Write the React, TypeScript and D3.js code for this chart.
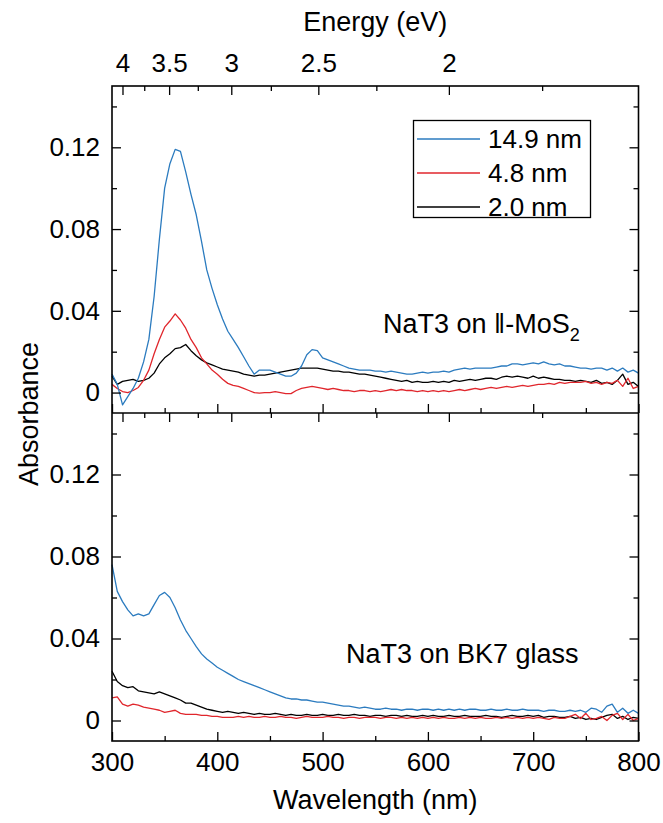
import { useEffect, useRef } from "react";
import * as d3 from "d3";

// sampling grid, nm
const wavelength = d3.range(300, 801, 5);

// absorbance x 1000 (mOD)
// top panel: NaT3 on MoS2
const mos2_149 = [
  9, 4, -6, -2, 2, 7, 15, 26, 47, 75,
  100, 112, 119, 118, 108, 97, 87, 74, 60, 51,
  43, 36, 30, 26, 22, 17.5, 13, 9, 11, 11,
  11, 10, 9, 8, 8, 9.5, 13, 18.5, 21, 20.5,
  17, 16, 15, 14, 13, 12, 11.5, 11, 11, 11,
  10.5, 10.5, 10, 10.5, 10, 9.5, 9, 9, 9.5, 10,
  9.5, 10, 10, 10.5, 10, 11, 11.5, 12, 11.5, 12,
  12, 12, 12, 12.5, 13, 13, 14, 14, 13.5, 14,
  14.5, 14, 15, 14, 13.5, 14, 13, 13, 12.5, 12,
  12, 11.5, 12, 12, 11, 12, 10.5, 12, 10, 11,
  9.5,
];
const mos2_48 = [
  4, 2, 0.5, 0, 1, 2.5, 6, 11, 19, 26,
  32, 35, 38.5, 35.5, 31.5, 26, 22, 17, 14, 11,
  9, 6.5, 4.5, 3.5, 3, 2, 1, 0, -0.3, 0,
  0, 0.5, 0, -0.5, -0.5, 1, 2, 2.5, 3, 2.5,
  2, 1.5, 2, 1.5, 1, 1, 0.5, 1, 1, 0.5,
  1, 0.5, 1, 1.5, 1, 1.5, 1, 1, 0.5, 1,
  0.5, 1, 0.5, 1, 0.5, 1, 1.5, 1, 1.5, 2,
  1.5, 2, 2.5, 2, 2.5, 3, 2.5, 3, 3.5, 3,
  3.5, 4, 4, 4.5, 4, 5, 4.5, 5, 5, 5,
  5.5, 4.5, 5, 4, 5, 4.5, 6, 3, 7, 2,
  3,
];
const mos2_20 = [
  8, 4, 5.5, 6, 6.5, 5.5, 6, 7, 9.5, 14,
  17, 19, 21.5, 22, 23.5, 20.5, 18, 16, 14.5, 13.5,
  12.5, 11.5, 11, 10.5, 10, 9, 8.5, 8, 8.5, 8.5,
  9, 9.5, 10, 10.5, 11, 11.5, 12, 12, 12, 12,
  11.5, 11, 10.5, 10.5, 10, 10, 9.5, 9, 9, 8.5,
  8, 7.5, 7, 6.5, 6, 5.5, 6, 5, 5.5, 5,
  5, 5.5, 5, 5.5, 5, 6, 5.5, 6, 6.5, 6,
  6.5, 7, 7, 6.5, 7.5, 8, 7.5, 8, 7.5, 7,
  8, 7, 7.5, 7, 6.5, 6.5, 6, 6, 5.5, 6,
  5.5, 5, 6, 4.5, 5, 4, 6, 9, 4, 5,
  3,
];
// bottom panel: NaT3 on BK7 glass
const bk7_149 = [
  76, 63, 58, 54, 51, 52, 51, 52, 56.5, 61,
  62.5, 60, 55, 49, 44, 40, 36, 32.5, 30, 28,
  26, 24.5, 23, 21.5, 20, 19, 18, 17, 16, 15,
  14, 13, 12, 11, 10.5, 10.5, 10, 10, 9.5, 9,
  9, 8.5, 8, 7.5, 7, 7, 6.5, 6, 6.5, 6,
  5.5, 5.5, 6, 5.5, 5.5, 5, 5.5, 5.5, 5, 5.5,
  5.5, 5, 5.5, 5, 5.5, 5, 5.5, 5, 5.5, 5.5,
  5, 5, 5.5, 5, 5, 5.5, 5, 5, 5.5, 5,
  5, 5, 4.5, 5, 5, 4.5, 4.5, 5, 4.5, 5,
  4, 6, 5.5, 4, 7, 8, 4, 6, 3.5, 5,
  3.5,
];
const bk7_48 = [
  11, 11.5, 8, 7, 8, 7.5, 6.5, 6, 5.5, 5,
  4, 4.5, 5, 3.5, 3, 3, 3, 2.5, 2.5, 2,
  2, 1.5, 1.5, 1.5, 2, 1.5, 2, 1.5, 1.5, 2,
  1.5, 1.5, 2, 1.5, 1.5, 1, 1.5, 2, 1.5, 1.5,
  1.5, 2, 1.5, 1.5, 1, 1.5, 1.5, 1, 1.5, 1.5,
  1.5, 1, 1.5, 1.5, 1, 1.5, 1, 1.5, 1, 1.5,
  1, 1.5, 1, 1.5, 1, 1, 1.5, 1, 1.5, 1,
  1.5, 1, 1, 1.5, 1, 1.5, 1, 1.5, 1, 1.5,
  1, 1.5, 1, 0.5, 1.5, 1, 1, 2, 3, 1,
  3.5, 0.5, 1, 2, 0, 2.5, 3.5, 0.5, 3, 0,
  1,
];
const bk7_20 = [
  24, 19, 17, 16, 16.5, 14.5, 14, 13.5, 13, 14,
  13, 12, 11, 10, 8.5, 8.5, 7.5, 6.5, 5.5, 5,
  4.5, 4, 4.5, 4, 3.5, 4, 3.5, 3, 3.5, 3,
  3, 3.5, 3, 2.5, 3, 2.5, 2.5, 3, 2.5, 2.5,
  3, 2.5, 2.5, 3, 2.5, 2.5, 3, 2.5, 2.5, 2,
  2.5, 2.5, 2, 2.5, 2.5, 2, 2.5, 2, 2, 2.5,
  2, 2.5, 2, 2, 2.5, 2, 2, 2.5, 2, 2,
  2, 2.5, 2, 2, 1.5, 2, 2.5, 2, 2, 2.5,
  2, 2.5, 1.5, 2, 2, 1.5, 1.5, 2, 1, 1.5,
  0.5, 1, 0.5, 1.5, 2.5, 3, 1, 2, 0.5, 1.5,
  1,
];

const seriesNames = ["14.9 nm", "4.8 nm", "2.0 nm"];
const seriesColors = ["#2b7bbf", "#e0262c", "#000000"];

const wlMajor = [300, 400, 500, 600, 700, 800];
const wlMinor = [350, 450, 550, 650, 750];
const energyMajor = [4, 3.5, 3, 2.5, 2];
const energyMinor = [3.75, 3.25, 2.75, 2.25, 1.75];
const absMajor = [0, 0.04, 0.08, 0.12];
const absMinor = [0.02, 0.06, 0.1, 0.14];

const HC = 1239.84; // eV*nm
const FONT = "'Liberation Sans', Arial, Helvetica, sans-serif";

const W = 663;
const H = 823;
const left = 112;
const right = 638.5;
const panels = [
  { top: 86, bottom: 413, series: [mos2_149, mos2_48, mos2_20] },
  { top: 413, bottom: 741, series: [bk7_149, bk7_48, bk7_20] },
];

const App = () => {
  const gRef = useRef<SVGGElement>(null);

  useEffect(() => {
    const root = d3.select(gRef.current);
    root.selectAll("*").remove();

    const x = d3.scaleLinear().domain([300, 800]).range([left, right]);

    const styleAxis = (g) => {
      g.select(".domain").remove();
      g.attr("font-family", FONT).attr("font-size", 26);
      g.selectAll("line").attr("stroke", "#000").attr("stroke-width", 1.3);
      g.selectAll("text").attr("fill", "#000");
      return g;
    };

    panels.forEach((p, pi) => {
      const y = d3.scaleLinear().domain([-0.01, 0.15]).range([p.bottom, p.top]);
      const g = root.append("g");

      const line = d3
        .line<number>()
        .x((_, k) => x(wavelength[k]))
        .y((d) => y(d / 1000));

      // draw thickest last-to-first so blue sits on top like the original
      [2, 1, 0].forEach((k) => {
        g.append("path")
          .datum(p.series[k])
          .attr("d", line)
          .attr("fill", "none")
          .attr("stroke", seriesColors[k])
          .attr("stroke-width", 1.3)
          .attr("stroke-linejoin", "round");
      });

      // y axes (ticks inward)
      g.append("g")
        .attr("transform", `translate(${left},0)`)
        .call(
          d3.axisLeft(y).tickValues(absMajor).tickSize(-9).tickPadding(12)
            .tickFormat((d) => String(d))
        )
        .call(styleAxis);
      g.append("g")
        .attr("transform", `translate(${left},0)`)
        .call(d3.axisLeft(y).tickValues(absMinor).tickSize(-5).tickFormat(() => ""))
        .call(styleAxis);
      g.append("g")
        .attr("transform", `translate(${right},0)`)
        .call(d3.axisRight(y).tickValues(absMajor).tickSize(-9).tickFormat(() => ""))
        .call(styleAxis);
      g.append("g")
        .attr("transform", `translate(${right},0)`)
        .call(d3.axisRight(y).tickValues(absMinor).tickSize(-5).tickFormat(() => ""))
        .call(styleAxis);

      // energy ticks on top edge, pointing down
      g.append("g")
        .attr("transform", `translate(0,${p.top})`)
        .call(
          d3.axisTop(x).tickValues(energyMajor.map((e) => HC / e)).tickSize(-9).tickPadding(14)
            .tickFormat((_, i) => (pi === 0 ? String(energyMajor[i]) : ""))
        )
        .call(styleAxis);
      g.append("g")
        .attr("transform", `translate(0,${p.top})`)
        .call(
          d3.axisTop(x).tickValues(energyMinor.map((e) => HC / e)).tickSize(-5).tickFormat(() => "")
        )
        .call(styleAxis);

      // wavelength ticks on bottom edge, pointing up
      g.append("g")
        .attr("transform", `translate(0,${p.bottom})`)
        .call(
          d3.axisBottom(x).tickValues(wlMajor).tickSize(-9).tickPadding(12)
            .tickFormat((d) => (pi === 1 ? String(d) : ""))
        )
        .call(styleAxis);
      g.append("g")
        .attr("transform", `translate(0,${p.bottom})`)
        .call(d3.axisBottom(x).tickValues(wlMinor).tickSize(-5).tickFormat(() => ""))
        .call(styleAxis);
    });

    // frame
    root.append("rect")
      .attr("x", left).attr("y", panels[0].top)
      .attr("width", right - left).attr("height", panels[1].bottom - panels[0].top)
      .attr("fill", "none").attr("stroke", "#000").attr("stroke-width", 1.6);
    root.append("line")
      .attr("x1", left).attr("x2", right)
      .attr("y1", panels[0].bottom).attr("y2", panels[0].bottom)
      .attr("stroke", "#000").attr("stroke-width", 1.6);
  }, []);

  const legendY = [139, 173, 207];

  return (
    <div style={{ position: "absolute", left: 0, top: 0 }}>
      <svg width={W} height={H} style={{ display: "block", background: "#fff" }} fontFamily={FONT}>
        <g ref={gRef} />

        <text x={(left + right) / 2} y={31} textAnchor="middle" fontSize={27}>
          Energy (eV)
        </text>
        <text x={(left + right) / 2} y={809} textAnchor="middle" fontSize={27}>
          Wavelength (nm)
        </text>
        <text transform="translate(38,414) rotate(-90)" textAnchor="middle" fontSize={27}>
          Absorbance
        </text>

        <text x={383} y={333} fontSize={27}>
          NaT3 on ‖-MoS
          <tspan fontSize={18} dy={8}>2</tspan>
        </text>
        <text x={346} y={663} fontSize={27}>
          NaT3 on BK7 glass
        </text>

        <rect x={413.5} y={120.5} width={177} height={97} fill="#fff" stroke="#000" strokeWidth={1.3} />
        {seriesNames.map((name, i) => (
          <g key={name}>
            <line x1={417} x2={480} y1={legendY[i]} y2={legendY[i]} stroke={seriesColors[i]} strokeWidth={1.5} />
            <text x={488} y={legendY[i]} dy="0.35em" fontSize={26}>
              {name}
            </text>
          </g>
        ))}
      </svg>
    </div>
  );
};

export default App;
